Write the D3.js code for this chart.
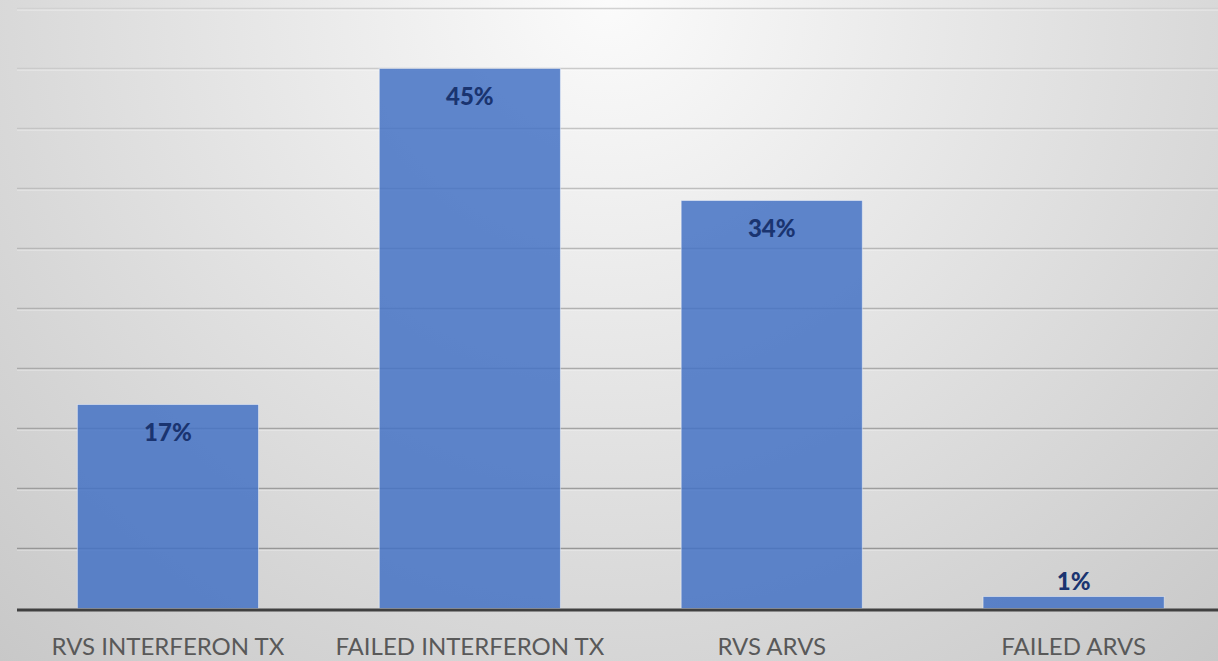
<!DOCTYPE html>
<html>
<head>
<meta charset="utf-8">
<script src="https://cdn.jsdelivr.net/npm/d3@7"></script>
<style>
  html, body { margin: 0; padding: 0; overflow: hidden; }
  svg { display: block; }
</style>
</head>
<body>
<svg id="chart" width="1218" height="661"></svg>
<script>
// Treatment outcome shares (percent)
const categories = ["RVS INTERFERON TX", "FAILED INTERFERON TX", "RVS ARVS", "FAILED ARVS"];
const values = [17, 45, 34, 1];
const valueLabels = ["17%", "45%", "34%", "1%"];
const gridTicks = [0, 5, 10, 15, 20, 25, 30, 35, 40, 45, 50];

const W = 1218, H = 661;
const svg = d3.select("#chart");

// radial backdrop: pale at the top centre, greyer toward the corners
const defs = svg.append("defs");
const bg = defs.append("radialGradient")
  .attr("id", "bg").attr("gradientUnits", "userSpaceOnUse")
  .attr("cx", 609).attr("cy", 0).attr("r", 900);
bg.append("stop").attr("offset", 0).attr("stop-color", "#fbfbfb");
bg.append("stop").attr("offset", 1).attr("stop-color", "#c8c8c8");

const gridGrad = defs.append("linearGradient")
  .attr("id", "grid").attr("gradientUnits", "userSpaceOnUse")
  .attr("x1", 0).attr("y1", 0).attr("x2", 0).attr("y2", 620);
gridGrad.append("stop").attr("offset", 0).attr("stop-color", "#d2d2d2");
gridGrad.append("stop").attr("offset", 1).attr("stop-color", "#8e8e8e");

svg.append("rect").attr("width", W).attr("height", H).attr("fill", "url(#bg)");

const x = d3.scaleBand()
  .domain(categories)
  .range([17, 17 + 4 * 301.9])
  .paddingInner(0.4)
  .paddingOuter(0.2);

const y = d3.scaleLinear().domain([0, 50]).range([608.5, 8.5]);

// horizontal gridlines
const grid = svg.append("g");
grid.selectAll("line.hl")
  .data(gridTicks.slice(1))
  .join("line")
  .attr("class", "hl")
  .attr("x1", 17).attr("x2", W)
  .attr("y1", d => y(d) + 1.5).attr("y2", d => y(d) + 1.5)
  .attr("stroke", "rgba(255,255,255,0.5)").attr("stroke-width", 1);
grid.selectAll("line.gl")
  .data(gridTicks.slice(1))
  .join("line")
  .attr("class", "gl")
  .attr("x1", 17).attr("x2", W)
  .attr("y1", d => y(d)).attr("y2", d => y(d))
  .attr("stroke", "url(#grid)").attr("stroke-width", 1.5);

// bars
svg.append("g").selectAll("rect")
  .data(values)
  .join("rect")
  .attr("x", (d, i) => x(categories[i]))
  .attr("width", x.bandwidth())
  .attr("y", d => y(d))
  .attr("height", d => y(0) - y(d))
  .attr("fill", "#4472c4")
  .attr("fill-opacity", 0.85)
  .attr("stroke", "rgba(255,255,255,0.45)")
  .attr("stroke-width", 1);

// value labels: inside the bar top, or above when the bar is too short
svg.append("g").selectAll("text")
  .data(values)
  .join("text")
  .attr("x", (d, i) => x(categories[i]) + x.bandwidth() / 2)
  .attr("y", d => (y(0) - y(d) > 45) ? y(d) + 36 : y(d) - 7)
  .attr("text-anchor", "middle")
  .attr("font-family", "Lato, 'Open Sans', sans-serif")
  .attr("font-weight", 900)
  .attr("font-size", 24)
  .attr("fill", "#1a3470")
  .text((d, i) => valueLabels[i]);

// baseline axis
const axis = d3.axisBottom(x).tickSize(0).tickPadding(0);
const ax = svg.append("g").attr("transform", `translate(0,${y(0) + 1.5})`).call(axis);
ax.select(".domain").remove();
ax.append("line")
  .attr("x1", 17).attr("x2", W).attr("y1", 0).attr("y2", 0)
  .attr("stroke", "#404040").attr("stroke-width", 3);
ax.selectAll(".tick text")
  .attr("dy", 0)
  .attr("y", 45)
  .attr("font-family", "Lato, 'Open Sans', sans-serif")
  .attr("font-size", 24)
  .attr("fill", "#595959");
</script>
</body>
</html>
